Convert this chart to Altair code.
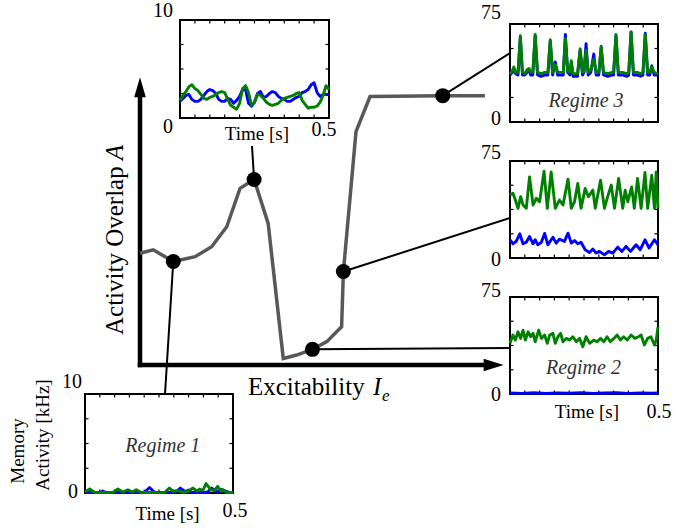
import altair as alt
import pandas as pd

SERIF = "Liberation Serif"
BLUE = "#0000ff"
GREEN = "#008000"
CURVE = "#585858"

# ---------------- main diagram: activity overlap A versus excitability I_e ----------------
ie_curve = [0.000, 0.037, 0.0925, 0.153, 0.199, 0.241, 0.278, 0.317, 0.356, 0.398,
            0.435, 0.479, 0.519, 0.560, 0.565, 0.600, 0.639, 0.841, 0.958]
a_curve = [0.392, 0.404, 0.363, 0.380, 0.415, 0.485, 0.620, 0.651, 0.497, 0.023,
           0.035, 0.055, 0.082, 0.134, 0.328, 0.819, 0.942, 0.945, 0.945]

# operating points whose activity traces are shown
dot_names = ["regime1", "peak", "regime2", "transition", "regime3"]
dot_ie = [0.0925, 0.317, 0.479, 0.565, 0.841]
dot_a = [0.363, 0.651, 0.055, 0.328, 0.945]

# ---------------- activity traces (time in s, memory activity in kHz) ----------------
grid_t = [round(0.01 * i, 2) for i in range(51)]
peak_blue = [1.7, 2.0, 2.3, 2.4, 1.9, 1.7, 1.7, 1.9, 2.3, 2.7,
             2.9, 2.8, 2.5, 1.9, 1.7, 1.7, 2.0, 1.9, 1.5, 1.8,
             2.2, 2.9, 2.9, 1.5, 1.2, 1.6, 2.5, 2.7, 2.1, 2.2,
             2.5, 2.7, 2.6, 2.2, 2.0, 1.9, 1.7, 1.7, 1.9, 2.1,
             2.2, 2.6, 2.7, 2.9, 3.4, 3.6, 2.6, 2.2, 2.4, 2.4, 2.4]
peak_green = [1.8, 2.3, 2.7, 3.2, 3.4, 3.0, 2.8, 2.4, 2.0, 1.9,
              2.1, 2.2, 2.4, 2.6, 2.7, 2.6, 1.9, 1.3, 1.1, 0.9,
              1.5, 3.0, 3.3, 2.6, 1.3, 1.6, 2.4, 2.3, 2.0, 1.6,
              1.4, 1.3, 1.4, 1.5, 1.8, 2.0, 2.1, 2.2, 2.3, 2.5,
              2.6, 1.8, 1.4, 1.0, 1.1, 1.1, 1.2, 1.6, 2.3, 3.3, 2.9]

r3_t = [0.000, 0.008, 0.013, 0.019, 0.027, 0.035, 0.042, 0.050, 0.058, 0.064,
        0.070, 0.077, 0.085, 0.093, 0.105, 0.118, 0.128, 0.136, 0.144, 0.153,
        0.161, 0.171, 0.180, 0.187, 0.195, 0.202, 0.207, 0.213, 0.228, 0.237,
        0.245, 0.250, 0.257, 0.264, 0.273, 0.283, 0.291, 0.300, 0.308, 0.316,
        0.330, 0.345, 0.350, 0.358, 0.366, 0.380, 0.395, 0.401, 0.409, 0.417,
        0.430, 0.441, 0.449, 0.457, 0.465, 0.472, 0.479, 0.487, 0.500]
r3_blue = [36, 38, 41, 37, 36, 65, 36, 36, 38, 40,
           36, 36, 66, 36, 35, 36, 36, 62, 36, 46,
           36, 36, 36, 67, 38, 36, 45, 35, 35, 55,
           36, 38, 60, 36, 38, 52, 36, 36, 57, 36,
           35, 36, 36, 66, 36, 36, 35, 36, 69, 36,
           36, 35, 36, 68, 36, 36, 43, 36, 36]
r3_green = [37, 39, 42, 38, 38, 66, 38, 37, 40, 41,
            38, 38, 67, 38, 37, 38, 38, 63, 38, 44,
            38, 38, 38, 64, 39, 38, 47, 37, 37, 56,
            38, 39, 55, 38, 40, 48, 38, 38, 58, 38,
            37, 38, 38, 67, 38, 38, 37, 38, 69, 38,
            38, 37, 38, 67, 38, 38, 42, 38, 37]

rm_green_t = [0.000, 0.010, 0.018, 0.027, 0.036, 0.044, 0.055, 0.066, 0.078, 0.089,
              0.100, 0.115, 0.126, 0.139, 0.153, 0.167, 0.179, 0.196, 0.207, 0.218,
              0.229, 0.240, 0.254, 0.265, 0.280, 0.288, 0.306, 0.319, 0.330, 0.342,
              0.353, 0.367, 0.381, 0.389, 0.398, 0.411, 0.420, 0.431, 0.443, 0.456,
              0.465, 0.479, 0.488, 0.494, 0.500]
rm_green = [48.7, 50.0, 44.8, 38.4, 47.4, 41.0, 38.4, 62.7, 41.0, 46.1,
            43.5, 67.1, 38.4, 66.6, 38.4, 44.8, 41.0, 61.0, 38.4, 43.5,
            57.6, 38.4, 53.8, 47.4, 52.5, 38.4, 60.2, 38.4, 47.4, 56.4,
            38.4, 61.5, 38.4, 52.5, 43.5, 55.0, 38.4, 61.5, 38.4, 66.1,
            38.4, 64.0, 38.4, 66.6, 38.4]
rm_blue_t = [0.000, 0.010, 0.021, 0.033, 0.044, 0.055, 0.066, 0.078, 0.085, 0.094,
             0.106, 0.117, 0.128, 0.145, 0.156, 0.167, 0.184, 0.196, 0.207, 0.218,
             0.229, 0.240, 0.254, 0.269, 0.280, 0.291, 0.302, 0.319, 0.333, 0.347,
             0.364, 0.378, 0.392, 0.407, 0.426, 0.440, 0.456, 0.470, 0.488, 0.500]
rm_blue = [14.1, 11.0, 12.8, 18.7, 11.0, 12.2, 16.6, 11.0, 14.1, 10.2,
           12.2, 19.0, 10.2, 16.1, 11.5, 14.6, 12.8, 19.2, 11.5, 13.5,
           11.0, 12.2, 6.4, 4.3, 6.9, 3.8, 5.1, 2.5, 5.1, 3.8,
           8.4, 5.1, 9.0, 5.1, 10.2, 6.4, 14.1, 7.7, 14.1, 10.2]

r2_green_t = [0.000, 0.010, 0.018, 0.027, 0.036, 0.044, 0.052, 0.061, 0.070, 0.078,
              0.085, 0.097, 0.106, 0.117, 0.126, 0.134, 0.145, 0.153, 0.162, 0.171,
              0.179, 0.190, 0.201, 0.212, 0.224, 0.235, 0.246, 0.257, 0.269, 0.283,
              0.294, 0.306, 0.317, 0.328, 0.339, 0.351, 0.362, 0.373, 0.384, 0.396,
              0.409, 0.422, 0.434, 0.443, 0.454, 0.465, 0.476, 0.488, 0.494, 0.500]
r2_green = [39.2, 45.6, 41.7, 48.1, 43.0, 49.4, 41.7, 48.1, 44.3, 46.9,
            40.4, 49.4, 43.0, 45.6, 39.2, 45.6, 46.9, 39.2, 44.3, 46.9,
            40.4, 43.0, 41.7, 44.3, 40.4, 43.0, 36.6, 44.3, 39.2, 41.7,
            40.4, 43.0, 40.4, 44.3, 40.4, 43.0, 45.6, 41.7, 44.3, 41.7,
            45.6, 43.0, 44.3, 45.6, 37.9, 43.0, 44.3, 37.9, 41.7, 52.0]
r2_blue_t = [0.00, 0.04, 0.08, 0.12, 0.16, 0.20, 0.24, 0.28, 0.32, 0.36, 0.40, 0.44, 0.48, 0.50]
r2_blue = [0.8, 0.5, 1.0, 0.4, 0.9, 0.6, 1.1, 0.5, 0.8, 1.0, 0.5, 0.9, 0.6, 0.8]

r1_green_t = [0.000, 0.016, 0.033, 0.094, 0.111, 0.128, 0.145, 0.160, 0.173, 0.190,
              0.269, 0.285, 0.299, 0.313, 0.330, 0.351, 0.364, 0.378, 0.387, 0.398,
              0.409, 0.426, 0.437, 0.448, 0.460, 0.465, 0.479, 0.500]
r1_green = [0.10, 0.40, 0.05, 0.05, 0.40, 0.10, 0.33, 0.10, 0.33, 0.05,
            0.05, 0.50, 0.15, 0.27, 0.05, 0.20, 0.50, 0.20, 0.40, 0.25,
            0.95, 0.30, 0.25, 0.67, 0.15, 0.33, 0.05, 0.05]
r1_blue_t = [0.000, 0.050, 0.060, 0.070, 0.200, 0.218, 0.236, 0.305, 0.322, 0.338,
             0.350, 0.362, 0.412, 0.428, 0.445, 0.462, 0.475, 0.490, 0.500]
r1_blue = [0.05, 0.05, 0.20, 0.05, 0.05, 0.55, 0.05, 0.05, 0.50, 0.15,
           0.30, 0.05, 0.05, 0.50, 0.10, 0.35, 0.20, 0.05, 0.05]

tick_t = [0.05, 0.10, 0.15, 0.20, 0.25, 0.30, 0.35, 0.40, 0.45]
tick_frac = [0.25, 0.50, 0.75]

# ---------------- layout (pixels on the 675 x 529 canvas) ----------------
MX = alt.Scale(domain=[0, 1], range=[140, 500], nice=False, zero=False)
MY = alt.Scale(domain=[0, 1], range=[365, 80], nice=False, zero=False)

INSETS = {
    "peak": dict(left=180, top=20, w=149, h=98, ymax=10, anchor=(252, 146)),
    "regime3": dict(left=510, top=24, w=148, h=98, ymax=75, anchor=(510, 53)),
    "transition": dict(left=510, top=161, w=148, h=97, ymax=75, anchor=(510, 218)),
    "regime2": dict(left=510, top=297, w=148, h=97, ymax=75, anchor=(510, 348)),
    "regime1": dict(left=85, top=394, w=148, h=99, ymax=10, anchor=(165, 394)),
}


def mx(field):
    return alt.X(field, type="quantitative", scale=MX, axis=None)


def my(field):
    return alt.Y(field, type="quantitative", scale=MY, axis=None)


def canvas_text(text, x, y, size, italic=False, angle=0, align="left", baseline="alphabetic"):
    return alt.Chart(pd.DataFrame({"s": [text]})).mark_text(
        font=SERIF, fontSize=size, fontStyle="italic" if italic else "normal",
        angle=angle, align=align, baseline=baseline, color="black",
    ).encode(x=alt.value(x), y=alt.value(y), text="s:N")


layers = []

# axes with arrow heads
axes_df = pd.DataFrame({"x0": [0.0, 0.0], "y0": [0.0, 0.0], "x1": [0.97, 0.0], "y1": [0.0, 0.97]})
layers.append(alt.Chart(axes_df).mark_rule(color="black", strokeWidth=4.5, strokeCap="square").encode(
    x=mx("x0"), y=my("y0"), x2="x1:Q", y2="y1:Q"))
layers.append(alt.Chart(pd.DataFrame({"x": [1.01], "y": [0.0]})).mark_point(
    shape="M0,0L-2,-0.62L-2,0.62Z", size=400, filled=True, opacity=1, color="black", strokeWidth=0
).encode(x=mx("x"), y=my("y")))
layers.append(alt.Chart(pd.DataFrame({"x": [0.0], "y": [1.01]})).mark_point(
    shape="M0,0L-0.58,2L0.58,2Z", size=400, filled=True, opacity=1, color="black", strokeWidth=0
).encode(x=mx("x"), y=my("y")))

# the overlap curve
curve_df = pd.DataFrame({"ie": ie_curve, "a": a_curve})
layers.append(alt.Chart(curve_df).mark_line(color=CURVE, strokeWidth=3.5, strokeJoin="miter").encode(
    x=mx("ie"), y=my("a")))

# connectors from each operating point to its trace
for name, xi, ai in zip(dot_names, dot_ie, dot_a):
    ax, ay = INSETS[name]["anchor"]
    layers.append(alt.Chart(pd.DataFrame({"ie": [xi], "a": [ai]})).mark_rule(
        color="black", strokeWidth=2).encode(x=mx("ie"), y=my("a"), x2=alt.value(ax), y2=alt.value(ay)))

dots_df = pd.DataFrame({"ie": dot_ie, "a": dot_a})
layers.append(alt.Chart(dots_df).mark_circle(size=225, color="black", opacity=1).encode(
    x=mx("ie"), y=my("a")))

# axis titles
layers.append(canvas_text("Excitability", 248, 395, 25))
layers.append(canvas_text("I", 373, 395, 25, italic=True))
layers.append(canvas_text("e", 382, 401, 17, italic=True))
layers.append(canvas_text("Activity Overlap", 123, 335, 25, angle=270))
layers.append(canvas_text("A", 123, 160, 25, italic=True, angle=270))
layers.append(canvas_text("Memory", 18, 451, 19, angle=270, align="center", baseline="middle"))
layers.append(canvas_text("Activity [kHz]", 43, 435, 19, angle=270, align="center", baseline="middle"))


def inset_layers(box, series, labels):
    sx = alt.Scale(domain=[0, 0.5], range=[box["left"], box["left"] + box["w"]], nice=False, zero=False)
    sy = alt.Scale(domain=[0, box["ymax"]], range=[box["top"] + box["h"], box["top"]], nice=False, zero=False)
    ix = lambda f: alt.X(f, type="quantitative", scale=sx, axis=None)
    iy = lambda f: alt.Y(f, type="quantitative", scale=sy, axis=None)
    ymax = box["ymax"]
    out = []
    frame = pd.DataFrame({"t0": [0.0], "t1": [0.5], "v0": [0.0], "v1": [ymax]})
    out.append(alt.Chart(frame).mark_rect(fill="white", stroke="black", strokeWidth=2).encode(
        x=ix("t0"), x2="t1:Q", y=iy("v0"), y2="v1:Q"))

    # inward tick marks, 3.5 px long
    ly = ymax * 3.5 / box["h"]
    lx = 0.5 * 3.5 / box["w"]
    rows = []
    for t in tick_t:
        rows.append((t, t, 0.0, ly))
        rows.append((t, t, ymax, ymax - ly))
    for f in tick_frac:
        v = f * ymax
        rows.append((0.0, lx, v, v))
        rows.append((0.5, 0.5 - lx, v, v))
    ticks = pd.DataFrame(rows, columns=["t0", "t1", "v0", "v1"])
    out.append(alt.Chart(ticks).mark_rule(color="black", strokeWidth=1.2).encode(
        x=ix("t0"), x2="t1:Q", y=iy("v0"), y2="v1:Q"))

    for t_list, v_list, color in series:
        df = pd.DataFrame({"t": t_list, "v": v_list})
        out.append(alt.Chart(df).mark_line(color=color, strokeWidth=2.9, strokeJoin="round").encode(
            x=ix("t"), y=iy("v")))

    for text, t, v, align, dx, dy, size, italic in labels:
        df = pd.DataFrame({"t": [t], "v": [v], "s": [text]})
        out.append(alt.Chart(df).mark_text(
            font=SERIF, fontSize=size, fontStyle="italic" if italic else "normal",
            align=align, baseline="middle", dx=dx, dy=dy,
            color="#333333" if italic else "black",
        ).encode(x=ix("t"), y=iy("v"), text="s:N"))
    return out


layers += inset_layers(
    INSETS["peak"],
    [(grid_t, peak_blue, BLUE), (grid_t, peak_green, GREEN)],
    [("10", 0, 10, "right", -7, -9, 20, False),
     ("0", 0, 0, "right", -7, 9, 20, False),
     ("0.5", 0.5, 0, "center", -5, 12, 20, False),
     ("Time [s]", 0.258, 0, "center", 0, 16, 19, False)],
)
layers += inset_layers(
    INSETS["regime3"],
    [(r3_t, r3_blue, BLUE), (r3_t, r3_green, GREEN)],
    [("75", 0, 75, "right", -9, -11, 20, False),
     ("0", 0, 0, "right", -9, -3, 20, False),
     ("Regime 3", 0.257, 15.9, "center", 0, 0, 20, True)],
)
layers += inset_layers(
    INSETS["transition"],
    [(rm_blue_t, rm_blue, BLUE), (rm_green_t, rm_green, GREEN)],
    [("75", 0, 75, "right", -9, -8, 20, False),
     ("0", 0, 0, "right", -9, 2, 20, False)],
)
layers += inset_layers(
    INSETS["regime2"],
    [(r2_green_t, r2_green, GREEN), (r2_blue_t, r2_blue, BLUE)],
    [("75", 0, 75, "right", -9, -6, 20, False),
     ("0", 0, 0, "right", -9, 1, 20, False),
     ("Regime 2", 0.248, 20.2, "center", 0, 0, 20, True),
     ("Time [s]", 0.26, 0, "center", 0, 18, 19, False),
     ("0.5", 0.5, 0, "center", 1, 18, 20, False)],
)
layers += inset_layers(
    INSETS["regime1"],
    [(r1_blue_t, r1_blue, BLUE), (r1_green_t, r1_green, GREEN)],
    [("10", 0, 10, "right", -3, -12, 20, False),
     ("0", 0, 0, "right", -7, -1, 20, False),
     ("Regime 1", 0.263, 4.7, "center", 0, 0, 20, True),
     ("Time [s]", 0.279, 0, "center", 0, 21, 19, False),
     ("0.5", 0.5, 0, "center", 2, 18, 20, False)],
)

chart = (
    alt.layer(*layers)
    .resolve_scale(x="independent", y="independent")
    .properties(width=675, height=529, padding=0, autosize=alt.AutoSizeParams(type="none"),
                background="white")
    .configure_view(stroke=None)
)

chart.save("out.html", embed_options={"renderer": "svg", "actions": False})
